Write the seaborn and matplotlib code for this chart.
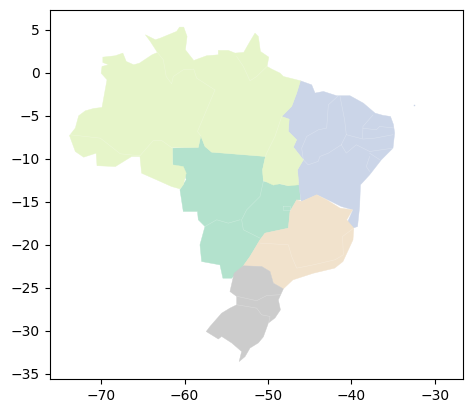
import matplotlib
matplotlib.use('Agg')
import matplotlib.pyplot as plt
import seaborn as sns

# outlines, (lon, lat)
norte = [(-73.8,-7.3),(-73.1,-6.43),(-72.7,-5.0),(-71.9,-4.42),(-70.9,-4.15),(-69.9,-4.03),(-69.3,-0.81),
         (-70.0,-0.04),(-69.9,0.74),(-69.1,0.93),(-69.8,1.2),(-69.8,1.82),(-68.3,1.98),(-67.4,2.29),(-67.0,1.32),
         (-66.1,0.93),(-65.4,1.12),(-63.9,2.09),(-63.25,2.36),(-64.1,3.64),(-64.7,4.42),(-63.5,3.84),(-62.9,4.03),
         (-60.95,4.81),(-60.6,5.31),(-60.1,5.31),(-59.7,4.22),(-59.9,2.67),(-58.9,1.43),(-57.35,1.98),(-55.95,2.09),
         (-55.95,2.6),(-54.75,2.6),(-53.95,2.29),(-52.9,2.37),(-52.15,3.64),(-51.55,4.61),(-51.15,4.22),(-50.9,2.48),
         (-49.9,1.82),(-50.1,0.74),(-49.55,0.43),(-48.55,-0.04),(-48.15,-0.43),(-46.1,-0.93),(-46.55,-2.36),
         (-47.15,-3.91),(-48.35,-5.08),(-47.45,-5.39),(-47.55,-6.82),(-46.55,-7.79),(-46.95,-8.64),(-45.75,-10.12),
         (-46.45,-11.28),(-46.3,-13.02),(-47.55,-13.14),(-48.55,-12.9),(-49.35,-13.06),(-50.55,-12.52),(-50.65,-11.28),
         (-50.3,-9.73),(-56.75,-9.23),(-57.55,-8.57),(-58.05,-7.33),(-58.35,-8.68),(-61.45,-8.68),(-61.45,-10.7),
         (-60.15,-10.9),(-59.8,-11.67),(-60.15,-13.02),(-60.55,-13.49),(-61.55,-13.22),(-63.35,-12.44),(-65.15,-11.67),
         (-65.35,-9.73),(-66.35,-9.73),(-68.3,-10.9),(-70.5,-10.8),(-70.6,-9.34),(-72.1,-9.81),(-73.1,-9.15)]
nordeste = [(-46.1,-0.93),(-44.75,-1.4),(-44.35,-2.36),(-43.35,-2.17),(-41.75,-2.67),(-40.15,-2.67),(-38.55,-3.53),
            (-37.15,-4.69),(-36.2,-4.95),(-35.3,-5.08),(-34.95,-6.0),(-34.8,-7.0),(-35.0,-8.76),(-36.4,-10.12),(-37.8,-11.86),(-38.9,-13.02),
            (-39.0,-15.54),(-39.25,-17.87),(-39.8,-18.06),(-40.5,-17.48),(-39.8,-15.93),(-41.2,-15.54),(-42.4,-14.96),
            (-44.1,-14.18),(-46.0,-14.96),(-46.3,-13.02),(-46.45,-11.28),(-45.75,-10.12),(-46.95,-8.64),(-46.55,-7.79),
            (-47.55,-6.82),(-47.45,-5.39),(-48.35,-5.08),(-47.15,-3.91),(-46.55,-2.36)]
noronha = [(-32.5,-3.8),(-32.3,-3.8),(-32.3,-3.9),(-32.5,-3.9)]
centro_oeste = [(-61.45,-8.76),(-58.35,-8.68),(-58.05,-7.33),(-57.55,-8.57),(-56.75,-9.23),(-50.3,-9.73),(-50.65,-11.28),
                (-50.55,-12.63),(-49.15,-12.83),(-47.55,-13.14),(-46.25,-12.83),(-46.1,-14.77),(-46.55,-14.77),
                (-47.35,-16.12),(-47.55,-18.06),(-50.35,-18.64),(-50.95,-19.42),(-52.15,-21.36),(-52.95,-22.44),
                (-54.35,-23.88),(-55.4,-23.88),(-55.75,-22.33),(-57.95,-21.94),(-58.15,-20.0),(-57.55,-17.87),
                (-58.35,-17.09),(-58.45,-16.12),(-60.15,-16.12),(-60.55,-13.6),(-59.8,-12.44),(-60.15,-11.08),(-61.4,-10.7)]
sudeste = [(-46.55,-14.77),(-45.95,-14.96),(-44.15,-14.18),(-42.95,-14.77),(-41.35,-15.74),(-39.85,-15.93),(-40.55,-17.09),
           (-39.7,-18.06),(-39.8,-19.42),(-41.0,-21.94),(-42.0,-22.71),(-44.55,-23.3),(-47.0,-24.07),(-48.15,-25.12),
           (-49.35,-24.46),(-49.75,-23.1),(-50.75,-22.52),(-52.95,-22.44),(-52.15,-21.36),(-50.95,-19.42),(-50.35,-18.64),
           (-47.55,-18.06),(-47.35,-16.12)]
sul = [(-52.95,-22.44),(-50.75,-22.52),(-49.75,-23.1),(-49.35,-24.46),(-48.15,-25.12),(-48.75,-26.4),(-48.5,-27.56),
       (-49.15,-28.5),(-49.95,-29.1),(-50.55,-30.7),(-51.15,-31.4),(-52.15,-32.0),(-52.75,-33.0),(-53.45,-33.57),(-53.15,-32.4),
       (-54.35,-31.4),(-55.55,-30.65),(-55.95,-30.95),(-57.4,-30.08),(-56.95,-29.5),(-55.55,-27.95),(-54.55,-27.36),
       (-53.75,-26.98),(-53.75,-26.0),(-54.55,-25.43),(-54.05,-23.3)]

# faint state borders inside the regions
state_borders = [
    [(-63.25,2.36),(-62.55,1.51),(-62.2,-0.43),(-61.55,-1.28),(-61.35,-0.43),(-60.15,0.35),(-58.9,0.43),(-58.55,-0.62),(-56.35,-2.0)],
    [(-53.75,1.9),(-52.95,0.74),(-52.15,-0.93),(-51.35,-0.43),(-49.9,0.93)],
    [(-56.35,-2.0),(-58.45,-6.82),(-58.05,-7.33)],
    [(-73.8,-7.2),(-70.1,-7.6),(-67.7,-9.42),(-65.35,-9.65)],
    [(-65.35,-9.65),(-63.75,-7.87),(-62.75,-7.87),(-61.45,-8.76)],
    [(-48.35,-5.08),(-49.15,-7.4),(-50.15,-9.34),(-50.3,-9.73)],
    [(-41.55,-2.67),(-42.75,-3.72),(-42.95,-6.43),(-43.95,-6.63),(-45.35,-7.4),(-45.95,-8.76),(-45.75,-10.12)],
    [(-41.35,-2.75),(-40.8,-5.47),(-40.6,-7.2),(-41.2,-8.37)],
    [(-41.2,-8.37),(-42.75,-9.34),(-43.77,-9.73),(-43.97,-10.3),(-45.17,-10.7),(-45.75,-10.12)],
    [(-41.2,-8.37),(-40.6,-9.34),(-39.4,-8.37),(-37.8,-9.15),(-35.0,-8.76)],
    [(-40.6,-7.2),(-38.6,-7.7),(-37.2,-7.6),(-35.0,-7.2)],
    [(-37.4,-4.9),(-38.6,-6.24),(-38.65,-7.6)],
    [(-38.6,-6.44),(-37.0,-6.63),(-36.6,-6.24),(-34.8,-6.43)],
    [(-37.8,-9.34),(-36.6,-10.1)],
    [(-37.8,-9.73),(-38.2,-10.9),(-37.8,-11.47)],
    [(-50.55,-12.63),(-50.95,-14.38),(-52.55,-15.93),(-53.15,-17.09),(-52.95,-18.25),(-50.95,-19.22)],
    [(-57.55,-17.87),(-56.15,-17.09),(-54.75,-17.48),(-53.35,-17.09)],
    [(-48.25,-15.43),(-48.25,-15.93),(-47.35,-15.93),(-47.35,-15.43),(-48.25,-15.43)],
    [(-50.95,-19.8),(-47.55,-20.0),(-47.15,-21.36),(-46.55,-22.71),(-44.55,-22.33),(-41.95,-21.74),(-40.95,-21.16),(-41.05,-19.03),(-39.7,-18.06)],
    [(-53.67,-26.0),(-51.35,-26.5),(-50.15,-25.9),(-48.55,-25.8)],
    [(-53.67,-26.98),(-51.35,-27.36),(-50.75,-28.14),(-49.75,-28.33),(-49.95,-29.3)],
]

palette = sns.color_palette('Pastel2', 8)
regions = [(centro_oeste, 0), (nordeste, 2), (noronha, 2), (norte, 4), (sudeste, 6), (sul, 7)]

fig = plt.figure(figsize=(4.73, 4.13), dpi=100)
ax = fig.add_axes([49.5/473, 34/413, 413.5/473, 369/413])

for shape, idx in regions:
    lons, lats = zip(*shape)
    ax.fill(lons, lats, color=palette[idx], linewidth=0.3)

for border in state_borders:
    lons, lats = zip(*border)
    ax.plot(lons, lats, color='white', linewidth=0.4, alpha=0.3)

ax.set_xlim(-76.2, -26.6)
ax.set_ylim(-35.6, 7.3)
ax.set_xticks([-70, -60, -50, -40, -30])
ax.set_yticks([5, 0, -5, -10, -15, -20, -25, -30, -35])

fig.savefig('out.png', dpi=100)
